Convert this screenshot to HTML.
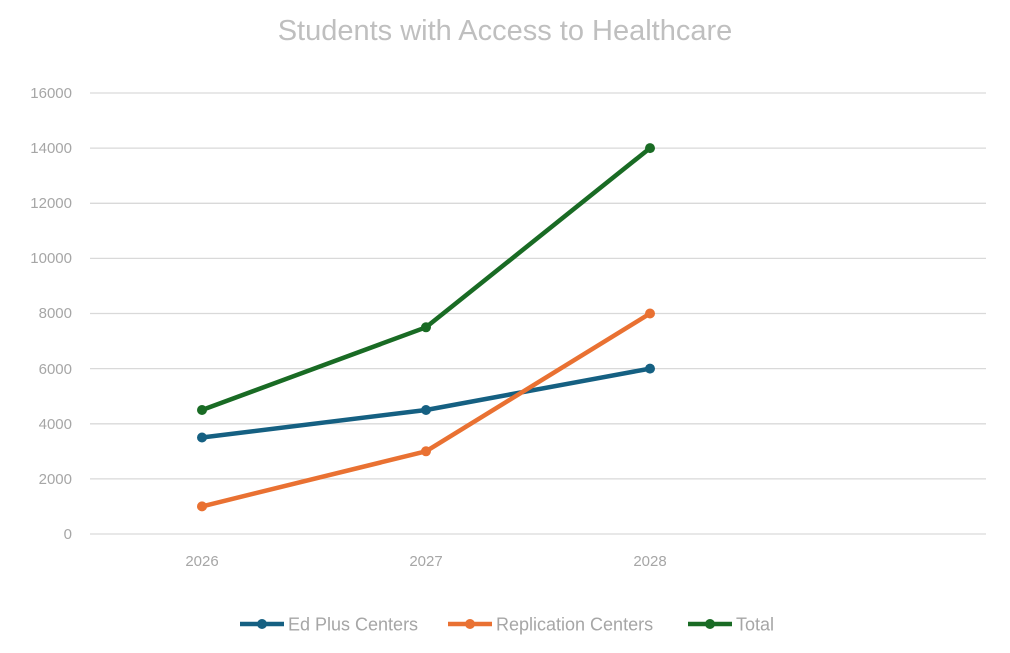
<!DOCTYPE html>
<html><head><meta charset="utf-8"><style>
body{margin:0;background:#fff;}
svg{display:block;font-family:"Liberation Sans",sans-serif;}
</style></head><body>
<svg width="1010" height="653" viewBox="0 0 1010 653" xmlns="http://www.w3.org/2000/svg">
<rect width="1010" height="653" fill="#fff"/>
<text x="505" y="40" text-anchor="middle" font-size="29" fill="#bfbfbf">Students with Access to Healthcare</text>
<g stroke="#d9d9d9" stroke-width="1.3">
<line x1="90" x2="986" y1="93" y2="93"/>
<line x1="90" x2="986" y1="148.1" y2="148.1"/>
<line x1="90" x2="986" y1="203.3" y2="203.3"/>
<line x1="90" x2="986" y1="258.4" y2="258.4"/>
<line x1="90" x2="986" y1="313.5" y2="313.5"/>
<line x1="90" x2="986" y1="368.6" y2="368.6"/>
<line x1="90" x2="986" y1="423.8" y2="423.8"/>
<line x1="90" x2="986" y1="478.9" y2="478.9"/>
<line x1="90" x2="986" y1="534" y2="534"/>
</g>
<g font-size="15" fill="#a6a6a6" text-anchor="end">
<text x="72" y="98">16000</text>
<text x="72" y="153">14000</text>
<text x="72" y="208">12000</text>
<text x="72" y="263">10000</text>
<text x="72" y="318">8000</text>
<text x="72" y="374">6000</text>
<text x="72" y="429">4000</text>
<text x="72" y="484">2000</text>
<text x="72" y="539">0</text>
</g>
<g font-size="15" fill="#a6a6a6" text-anchor="middle">
<text x="202" y="566">2026</text>
<text x="426" y="566">2027</text>
<text x="650" y="566">2028</text>
</g>
<g stroke-width="4.5" fill="none" stroke-linejoin="round">
<polyline stroke="#156082" points="202,437.5 426,410 650,368.6"/>
<polyline stroke="#E97132" points="202,506.4 426,451.3 650,313.5"/>
<polyline stroke="#196B24" points="202,410 426,327.3 650,148.1"/>
</g>
<g fill="#156082"><circle cx="202" cy="437.5" r="5"/><circle cx="426" cy="410" r="5"/><circle cx="650" cy="368.6" r="5"/></g>
<g fill="#E97132"><circle cx="202" cy="506.4" r="5"/><circle cx="426" cy="451.3" r="5"/><circle cx="650" cy="313.5" r="5"/></g>
<g fill="#196B24"><circle cx="202" cy="410" r="5"/><circle cx="426" cy="327.3" r="5"/><circle cx="650" cy="148.1" r="5"/></g>
<g font-size="18" fill="#a6a6a6">
<line x1="240" x2="284" y1="624" y2="624" stroke="#156082" stroke-width="4.5"/><circle cx="262" cy="624" r="5" fill="#156082"/>
<text x="288" y="630.5">Ed Plus Centers</text>
<line x1="448" x2="492" y1="624" y2="624" stroke="#E97132" stroke-width="4.5"/><circle cx="470" cy="624" r="5" fill="#E97132"/>
<text x="496" y="630.5">Replication Centers</text>
<line x1="688" x2="732" y1="624" y2="624" stroke="#196B24" stroke-width="4.5"/><circle cx="710" cy="624" r="5" fill="#196B24"/>
<text x="736" y="630.5">Total</text>
</g>
</svg>
</body></html>
